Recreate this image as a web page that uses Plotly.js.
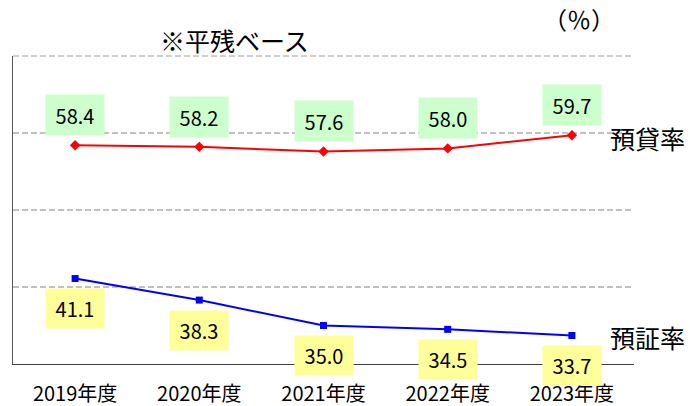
<!DOCTYPE html>
<html><head><meta charset="utf-8">
<script src="https://cdn.plot.ly/plotly-3.0.1.min.js"></script>
<style>body{margin:0;background:#fff}#c{width:690px;height:406px}</style>
</head><body><div id="c"></div>
<script>
const categories = ["2019年度","2020年度","2021年度","2022年度","2023年度"];
const loanRatio = [58.4, 58.2, 57.6, 58.0, 59.7];
const securitiesRatio = [41.1, 38.3, 35.0, 34.5, 33.7];
const seriesNames = ["預貸率","預証率"];
const FONT = '"Noto Sans CJK JP", "Noto Sans", sans-serif';

const traces = [
  {x: categories, y: loanRatio, type:'scatter', mode:'lines+markers', name:seriesNames[0],
   line:{color:'#ff0000', width:2}, marker:{symbol:'diamond', size:8, color:'#ff0000'}},
  {x: categories, y: securitiesRatio, type:'scatter', mode:'lines+markers', name:seriesNames[1],
   line:{color:'#0000ff', width:2}, marker:{symbol:'square', size:7, color:'#0000ff'}}
];

const ann = [];
categories.forEach((c,i)=>{
  ann.push({x:c, y:loanRatio[i], xref:'x', yref:'y', text:loanRatio[i].toFixed(1), showarrow:false,
    yshift:30, bgcolor:'#ccffcc', width:56, height:38, font:{family:FONT, size:20, color:'#000'}});
  ann.push({x:c, y:securitiesRatio[i], xref:'x', yref:'y', text:securitiesRatio[i].toFixed(1), showarrow:false,
    yshift:-30, bgcolor:'#ffff99', width:56, height:37, font:{family:FONT, size:20, color:'#000'}});
});
ann.push({x:categories[4], y:loanRatio[4], xref:'x', yref:'y', text:seriesNames[0], showarrow:false,
  xanchor:'left', xshift:36, yshift:-3, font:{family:FONT, size:25, color:'#000'}});
ann.push({x:categories[4], y:securitiesRatio[4], xref:'x', yref:'y', text:seriesNames[1], showarrow:false,
  xanchor:'left', xshift:36, yshift:-1, font:{family:FONT, size:25, color:'#000'}});
ann.push({xref:'paper', yref:'paper', x:0.356, y:1.052, xanchor:'center', yanchor:'middle', text:'※平残ベース', showarrow:false,
  font:{family:FONT, size:25, color:'#000'}});
ann.push({xref:'paper', yref:'paper', x:0.911, y:1.123, xanchor:'center', yanchor:'middle', text:'（％）', showarrow:false,
  font:{family:FONT, size:24, color:'#000'}});

const layout = {
  width:690, height:406,
  margin:{l:13, r:56, t:56, b:42},
  paper_bgcolor:'#fff', plot_bgcolor:'#fff',
  showlegend:false,
  xaxis:{type:'category', range:[-0.5,4.5], showgrid:false, showline:true, linecolor:'#404040', linewidth:1,
    ticks:'', tickfont:{family:FONT, size:20, color:'#000'}, ticklabelstandoff:12, zeroline:false, fixedrange:true},
  yaxis:{range:[30,70], dtick:10, tick0:30, showticklabels:false, showline:true, linecolor:'#595959', linewidth:1,
    gridcolor:'#c0c0c0', gridwidth:1.5, griddash:'6px,3px', zeroline:false, ticks:''},
  shapes:[{type:'line', xref:'paper', yref:'paper', x0:0, x1:1, y0:1, y1:1, layer:'below',
    line:{color:'#c0c0c0', width:1.5, dash:'6px,3px'}}],
  annotations: ann
};
Plotly.newPlot('c', traces, layout, {staticPlot:true});
</script></body></html>
